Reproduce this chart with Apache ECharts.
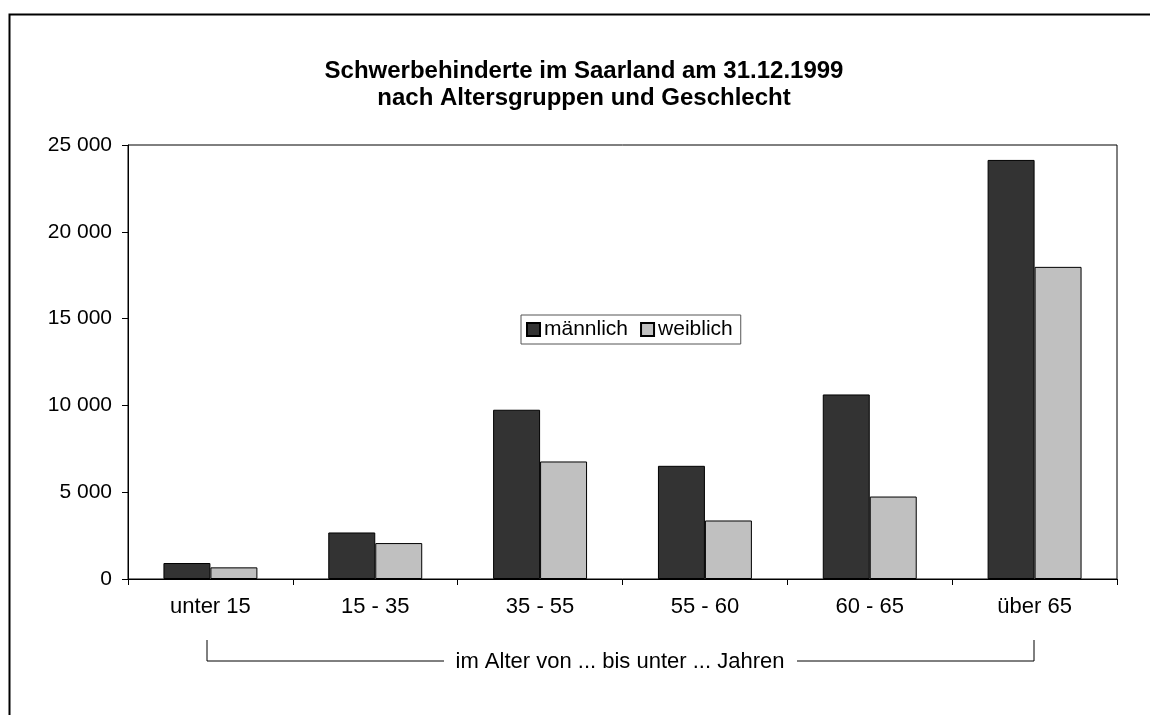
<!DOCTYPE html>
<html><head><meta charset="utf-8">
<script src="https://cdn.jsdelivr.net/npm/echarts@6/dist/echarts.min.js"></script>
<style>html,body{margin:0;padding:0;background:#fff}#c{width:1150px;height:715px}</style>
</head><body><div id="c"></div>
<script>
const categories = ['unter 15', '15 - 35', '35 - 55', '55 - 60', '60 - 65', 'über 65'];
const maleValues = [920, 2680, 9750, 6520, 10630, 24140];
const femaleValues = [670, 2070, 6770, 3370, 4750, 17980];
const seriesNames = ['männlich', 'weiblich'];
const titleLines = ['Schwerbehinderte im Saarland am 31.12.1999', 'nach Altersgruppen und Geschlecht'];
const xAxisCaption = 'im Alter von ... bis unter ... Jahren';

const FONT = '"Liberation Sans", Arial, sans-serif';
const chart = echarts.init(document.getElementById('c'), null, {renderer: 'canvas'});
const fmt = v => String(v).replace(/\B(?=(\d{3})+(?!\d))/g, ' ');

chart.setOption({
  animation: false,
  backgroundColor: '#fff',
  title: {
    text: titleLines.join('\n'), left: 579, top: 53, textAlign: 'center',
    textStyle: {fontFamily: FONT, fontSize: 24, fontWeight: 'bold', color: '#000', lineHeight: 27}
  },
  legend: {
    data: seriesNames, left: 521, top: 315,
    orient: 'horizontal', itemWidth: 13, itemHeight: 13, itemGap: 12,
    padding: [4, 8, 4, 5], borderColor: '#555', borderWidth: 1, backgroundColor: '#fff',
    icon: 'rect',
    textStyle: {fontFamily: FONT, fontSize: 21, color: '#000', padding: [0, 0, 0, -1]}
  },
  grid: {left: 128, right: 33, top: 145, bottom: 136, show: true, borderColor: '#000', borderWidth: 1, backgroundColor: '#fff'},
  xAxis: {
    type: 'category', data: categories, boundaryGap: true,
    axisLine: {lineStyle: {color: '#000', width: 1}},
    axisTick: {show: true, inside: false, length: 6, alignWithLabel: false, lineStyle: {color: '#000'}},
    axisLabel: {fontFamily: FONT, fontSize: 22, color: '#000', margin: 17}
  },
  yAxis: {
    type: 'value', min: 0, max: 25000, interval: 5000,
    axisLine: {show: true, lineStyle: {color: '#000', width: 1}},
    axisTick: {show: true, length: 6, lineStyle: {color: '#000'}},
    splitLine: {show: false},
    axisLabel: {fontFamily: FONT, fontSize: 21, color: '#000', margin: 16, formatter: fmt}
  },
  series: [
    {name: seriesNames[0], type: 'bar', data: maleValues, barGap: '0%', barCategoryGap: '43%',
     itemStyle: {color: '#333333', borderColor: '#000', borderWidth: 1}},
    {name: seriesNames[1], type: 'bar', data: femaleValues,
     itemStyle: {color: '#c0c0c0', borderColor: '#000', borderWidth: 1}}
  ],
  graphic: [
    {type: 'rect', left: 7, top: 12, shape: {width: 1300, height: 900}, style: {fill: 'none', stroke: '#000', lineWidth: 2}, silent: true},
    {type: 'polyline', shape: {points: [[207, 640], [207, 661], [444, 661]]}, style: {stroke: '#000', lineWidth: 1, fill: 'none'}},
    {type: 'polyline', shape: {points: [[797, 661], [1034, 661], [1034, 640]]}, style: {stroke: '#000', lineWidth: 1, fill: 'none'}},
    {type: 'text', x: 620, y: 662, style: {text: xAxisCaption, font: '22px ' + FONT, fill: '#000', textAlign: 'center', textVerticalAlign: 'middle'}}
  ]
});
</script></body></html>
